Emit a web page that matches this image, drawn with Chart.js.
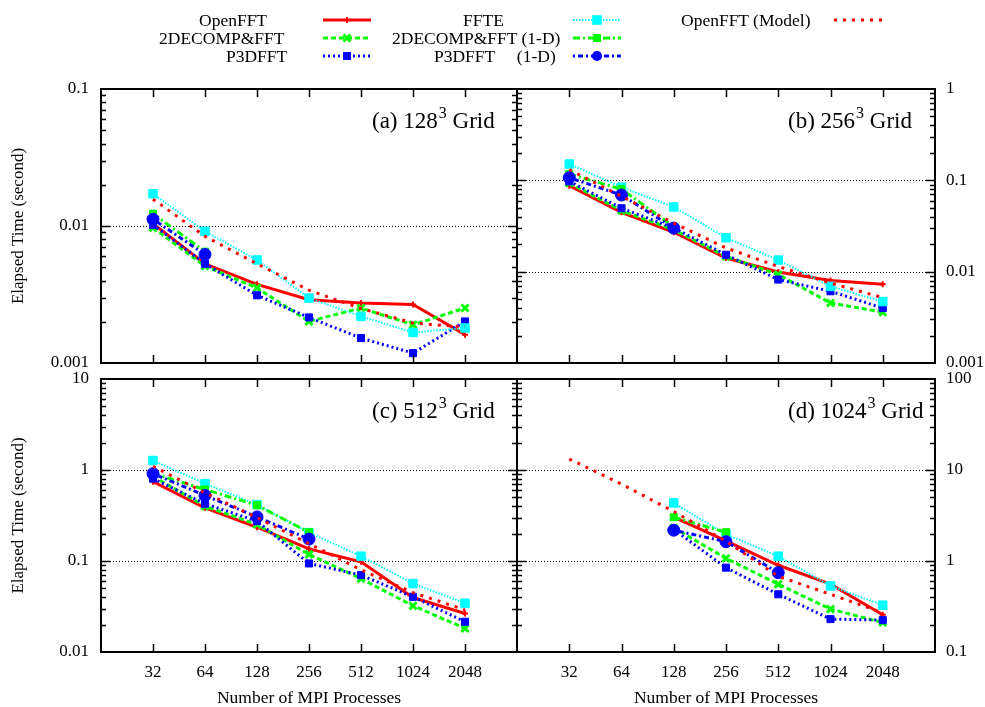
<!DOCTYPE html>
<html><head><meta charset="utf-8">
<script src="https://cdn.jsdelivr.net/npm/chart.js@4/dist/chart.umd.min.js"></script>
<style>
html,body{margin:0;padding:0;background:#fff;width:985px;height:707px;overflow:hidden;}
body{position:relative;font-family:"Liberation Serif",serif;}
canvas{position:absolute;}
.lg{position:absolute;font-size:17.5px;line-height:18px;white-space:pre;color:#000;font-family:"Liberation Serif",serif;}
</style></head><body>
<canvas id="swatch" width="985" height="75" style="left:0px;top:0px"></canvas>
<div id="legend"></div>
<canvas id="ca" width="530" height="300" style="left:0px;top:80px"></canvas>
<canvas id="cb" width="480" height="300" style="left:505px;top:80px"></canvas>
<canvas id="cc" width="530" height="337" style="left:0px;top:370px"></canvas>
<canvas id="cd" width="480" height="337" style="left:505px;top:370px"></canvas>
<script>
// ---------------- data ----------------
const procs = [32, 64, 128, 256, 512, 1024, 2048];
const seriesNames = ['OpenFFT', '2DECOMP&FFT', 'P3DFFT', 'FFTE', '2DECOMP&FFT (1-D)', 'P3DFFT (1-D)', 'OpenFFT (Model)'];
const xTitle = 'Number of MPI Processes';
const yTitle = 'Elapsed Time (second)';
const gridSizes = ['128', '256', '512', '1024'];
const panelLetters = ['a', 'b', 'c', 'd'];

// (a) 128^3
const openfftA  = [0.0104, 0.0053, 0.00375, 0.0029, 0.00274, 0.00267, 0.00161];
const decompA   = [0.0097, 0.0051, 0.00353, 0.00201, 0.00252, 0.0019, 0.00252];
const p3dA      = [0.0102, 0.0053, 0.00312, 0.00215, 0.00152, 0.00118, 0.00201];
const ffteA     = [0.0172, 0.00914, 0.00565, 0.00298, 0.00219, 0.00167, 0.0018];
const decomp1dA = [0.0123, 0.0065, null, null, null, null, null];
const p3d1dA    = [0.0112, 0.0062, null, null, null, null, null];
const modelA    = [0.0157, 0.0084, 0.0053, 0.0034, 0.0025, 0.00196, 0.00183];
const yTicksA   = [0.001, 0.01, 0.1];

// (b) 256^3
const openfftB  = [0.0875, 0.0447, 0.027, 0.0141, 0.0099, 0.008, 0.0073];
const decompB   = [0.0935, 0.0466, 0.0288, 0.0147, 0.0093, 0.00454, 0.0036];
const p3dB      = [0.0975, 0.0495, 0.0301, 0.0153, 0.0082, 0.0061, 0.0040];
const ffteB     = [0.151, 0.0842, 0.0511, 0.0235, 0.0134, 0.0069, 0.0047];
const decomp1dB = [0.117, 0.080, 0.031, null, null, null, null];
const p3d1dB    = [0.107, 0.069, 0.030, null, null, null, null];
const modelB    = [0.131, 0.0668, 0.034, 0.0182, 0.0114, 0.0075, 0.0052];
const yTicksB   = [0.001, 0.01, 0.1, 1];

// (c) 512^3
const openfftC  = [0.745, 0.384, 0.235, 0.136, 0.098, 0.0397, 0.0265];
const decompC   = [0.85, 0.40, 0.252, 0.118, 0.064, 0.0322, 0.0182];
const p3dC      = [0.805, 0.426, 0.274, 0.094, 0.070, 0.0404, 0.0215];
const ffteC     = [1.27, 0.708, 0.417, 0.205, 0.113, 0.0565, 0.0344];
const decomp1dC = [0.92, 0.61, 0.41, 0.207, null, null, null];
const p3d1dC    = [0.912, 0.525, 0.305, 0.174, null, null, null];
const modelC    = [1.1, 0.56, 0.30, 0.155, 0.08, 0.045, 0.029];
const yTicksC   = [0.01, 0.1, 1, 10];

// (d) 1024^3
const openfftD  = [null, null, 3.03, 1.66, 0.898, 0.556, 0.257];
const decompD   = [null, null, 2.32, 1.07, 0.556, 0.296, 0.211];
const p3dD      = [null, null, 2.22, 0.845, 0.431, 0.23, 0.224];
const ffteD     = [null, null, 4.35, 1.96, 1.13, 0.532, 0.327];
const decomp1dD = [null, null, 3.03, 2.07, null, null, null];
const p3d1dD    = [null, null, 2.18, 1.63, 0.745, null, null];
const modelD    = [13.2, 7.0, 3.5, 1.65, 0.68, 0.43, 0.27];
const yTicksD   = [0.1, 1, 10, 100];

// ---------------- styles ----------------
const seriesStyles = [
  {color:'#ff0000', width:3, dash:[],          point:'cross',    radius:3, pbw:2},
  {color:'#00ff00', width:3, dash:[5,3],       point:'crossRot', radius:5, pbw:3},
  {color:'#0000ff', width:3, dash:[2,3],       point:'rect',     radius:5, pbw:1},
  {color:'#00ffff', width:2, dash:[1.5,1.5],   point:'rect',     radius:6, pbw:1},
  {color:'#00ff00', width:3, dash:[7,3,2,3],   point:'rect',     radius:5, pbw:1},
  {color:'#0000ff', width:3, dash:[2,3,5,3],   point:'circle',   radius:6, pbw:1},
  {color:'#ff0000', width:3, dash:[3,6],       point:'circle',   radius:0, pbw:0}
];
const FONT = '"Liberation Serif", serif';
Chart.defaults.font.family = FONT;
Chart.defaults.color = '#000';

const panels = [
  {id:'ca', series:[openfftA,decompA,p3dA,ffteA,decomp1dA,p3d1dA,modelA], yTicks:yTicksA, side:'left',  bottom:false,
   pad:{left:0,top:9,right:13,bottom:17}, yW:101, xH:0},
  {id:'cb', series:[openfftB,decompB,p3dB,ffteB,decomp1dB,p3d1dB,modelB], yTicks:yTicksB, side:'right', bottom:false,
   pad:{left:12,top:9,right:0,bottom:17}, yW:50, xH:0},
  {id:'cc', series:[openfftC,decompC,p3dC,ffteC,decomp1dC,p3d1dC,modelC], yTicks:yTicksC, side:'left',  bottom:true,
   pad:{left:0,top:9,right:13,bottom:0}, yW:101, xH:55},
  {id:'cd', series:[openfftD,decompD,p3dD,ffteD,decomp1dD,p3d1dD,modelD], yTicks:yTicksD, side:'right', bottom:true,
   pad:{left:12,top:9,right:0,bottom:0}, yW:50, xH:55}
];

const framePlugin = {
  id: 'frame',
  beforeDatasetsDraw(chart, args, o) {
    const {ctx, chartArea: a, scales: {y}} = chart;
    ctx.save();
    ctx.strokeStyle = '#000'; ctx.lineWidth = 1; ctx.setLineDash([1, 2]);
    o.yTicks.slice(1, -1).forEach(v => {
      const py = Math.round(y.getPixelForValue(v)) + 0.5;
      ctx.beginPath(); ctx.moveTo(a.left, py); ctx.lineTo(a.right, py); ctx.stroke();
    });
    ctx.restore();
  },
  afterDatasetsDraw(chart, args, o) {
    const {ctx, chartArea: a, scales: {x, y}} = chart;
    ctx.save();
    ctx.strokeStyle = '#000'; ctx.setLineDash([]);
    ctx.lineWidth = 1.5;
    ctx.beginPath();
    procs.forEach(v => {
      const px = Math.round(x.getPixelForValue(v)) + 0.5;
      ctx.moveTo(px, a.bottom); ctx.lineTo(px, a.bottom - 8);
      ctx.moveTo(px, a.top); ctx.lineTo(px, a.top + 8);
    });
    const ymin = o.yTicks[0], ymax = o.yTicks[o.yTicks.length - 1];
    for (let d = ymin; d < ymax * 0.999; d *= 10) {
      for (let k = 1; k <= 9; k++) {
        const v = d * k;
        if (k === 1 && d === ymin) continue;
        const py = Math.round(y.getPixelForValue(v)) + 0.5;
        const L = k === 1 ? 9 : 5;
        ctx.moveTo(a.left, py); ctx.lineTo(a.left + L, py);
        ctx.moveTo(a.right, py); ctx.lineTo(a.right - L, py);
      }
    }
    ctx.stroke();
    ctx.lineWidth = 2;
    ctx.strokeRect(a.left, a.top, a.right - a.left, a.bottom - a.top);
    ctx.fillStyle = '#000'; ctx.textBaseline = 'alphabetic'; ctx.textAlign = 'left';
    let tx = a.left + 271; const ty = a.top + 38.5;
    const t1 = '(' + o.letter + ') ' + o.grid;
    ctx.font = '23px ' + FONT; ctx.fillText(t1, tx, ty); tx += ctx.measureText(t1).width + 1;
    ctx.font = '16px ' + FONT; ctx.fillText('3', tx, ty - 10); tx += ctx.measureText('3').width;
    ctx.font = '23px ' + FONT; ctx.fillText(' Grid', tx, ty);
    ctx.restore();
  }
};

function zeroPad(ax) { ax.paddingTop = 0; ax.paddingBottom = 0; ax.paddingLeft = 0; ax.paddingRight = 0; }

panels.forEach((p, pi) => {
  const datasets = p.series.map((vals, i) => {
    const st = seriesStyles[i];
    return {
      label: seriesNames[i],
      data: procs.map((x, j) => ({x: x, y: vals[j]})).filter(d => d.y !== null),
      borderColor: st.color, backgroundColor: st.color,
      borderWidth: st.width, borderDash: st.dash,
      pointStyle: st.point, pointRadius: st.radius, pointBorderWidth: st.pbw,
      pointBackgroundColor: st.color, pointBorderColor: st.color,
      pointHoverRadius: st.radius, tension: 0, order: -i
    };
  });
  new Chart(document.getElementById(p.id), {
    type: 'line',
    data: {datasets},
    plugins: [framePlugin],
    options: {
      responsive: false, animation: false, devicePixelRatio: 1,
      layout: {padding: p.pad},
      plugins: {legend: {display: false}, tooltip: {enabled: false},
        frame: {yTicks: p.yTicks, letter: panelLetters[pi], grid: gridSizes[pi]}},
      scales: {
        x: {
          type: 'logarithmic', position: 'bottom', min: 16, max: 4096,
          afterBuildTicks: ax => { ax.ticks = procs.map(v => ({value: v})); },
          afterFit: ax => { ax.height = p.xH; zeroPad(ax); },
          grid: {display: false, drawTicks: false}, border: {display: false},
          ticks: {display: p.bottom, autoSkip: false, maxRotation: 0, padding: 10, color: '#000',
                  font: {family: FONT, size: 17}, callback: v => String(v)},
          title: {display: p.bottom, text: xTitle, color: '#000',
                  font: {family: FONT, size: 17.5, lineHeight: 1}, padding: {top: 0, bottom: 0}}
        },
        y: {
          type: 'logarithmic', position: p.side, min: p.yTicks[0], max: p.yTicks[p.yTicks.length - 1],
          afterBuildTicks: ax => { ax.ticks = p.yTicks.map(v => ({value: v})); },
          afterFit: ax => { ax.width = p.yW; zeroPad(ax); },
          grid: {display: false, drawTicks: false}, border: {display: false},
          ticks: {autoSkip: false, padding: p.side === 'left' ? 12 : 11, color: '#000',
                  font: {family: FONT, size: 17}, callback: v => String(v)},
          title: {display: p.side === 'left', text: yTitle, color: '#000',
                  font: {family: FONT, size: 17, lineHeight: 1.2}, padding: {top: 8, bottom: 0}}
        }
      }
    }
  });
});

// ---------------- legend ----------------
const legendItems = [
  {i:0, text:'OpenFFT',            tx:199, row:0, sx:323},
  {i:1, text:'2DECOMP&FFT',        tx:159, row:1, sx:323},
  {i:2, text:'P3DFFT',             tx:226, row:2, sx:323},
  {i:3, text:'FFTE',               tx:463, row:0, sx:573},
  {i:4, text:'2DECOMP&FFT (1-D)',  tx:392, row:1, sx:573},
  {i:5, text:'P3DFFT     (1-D)',   tx:434, row:2, sx:573},
  {i:6, text:'OpenFFT (Model)',    tx:681, row:0, sx:834}
];
const rowY = [20, 38, 56];
const lg = document.getElementById('legend');
const sctx = document.getElementById('swatch').getContext('2d');
function marker(ctx, st, cx, cy) {
  const r = st.radius; if (!r) return;
  ctx.save(); ctx.setLineDash([]); ctx.fillStyle = st.color; ctx.strokeStyle = st.color; ctx.lineWidth = st.pbw;
  ctx.beginPath();
  if (st.point === 'rect') { ctx.fillRect(cx - r * 0.8, cy - r * 0.8, r * 1.6, r * 1.6); }
  else if (st.point === 'circle') { ctx.arc(cx, cy, r * 0.85, 0, Math.PI * 2); ctx.fill(); }
  else if (st.point === 'cross') { ctx.moveTo(cx - r, cy); ctx.lineTo(cx + r, cy); ctx.moveTo(cx, cy - r); ctx.lineTo(cx, cy + r); ctx.stroke(); }
  else if (st.point === 'crossRot') { const q = r * 0.7; ctx.moveTo(cx - q, cy - q); ctx.lineTo(cx + q, cy + q); ctx.moveTo(cx + q, cy - q); ctx.lineTo(cx - q, cy + q); ctx.stroke(); }
  ctx.restore();
}
legendItems.forEach(it => {
  const d = document.createElement('div');
  d.className = 'lg'; d.textContent = it.text;
  d.style.left = it.tx + 'px'; d.style.top = (rowY[it.row] - 9) + 'px';
  lg.appendChild(d);
  const st = seriesStyles[it.i];
  const y = rowY[it.row];
  sctx.save();
  sctx.strokeStyle = st.color; sctx.lineWidth = st.width; sctx.setLineDash(st.dash);
  sctx.beginPath(); sctx.moveTo(it.sx, y); sctx.lineTo(it.sx + 48, y); sctx.stroke();
  sctx.restore();
  marker(sctx, st, it.sx + 24, y);
});
</script>
</body></html>
